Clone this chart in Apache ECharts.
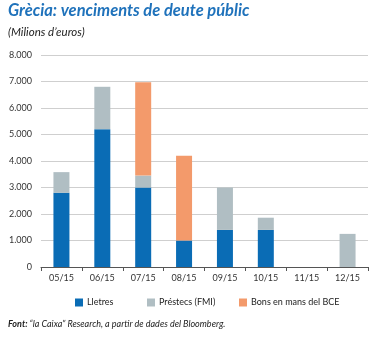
<!DOCTYPE html>
<html>
<head>
<meta charset="utf-8">
<script src="https://cdn.jsdelivr.net/npm/echarts@6/dist/echarts.min.js"></script>
<style>
html,body{margin:0;padding:0;background:#fff;}
#c{width:380px;height:338px;}
</style>
</head>
<body>
<div id="c"></div>
<script>
var categories = ['05/15','06/15','07/15','08/15','09/15','10/15','11/15','12/15'];
var lletres  = [2800, 5200, 3000, 1000, 1400, 1400, 0, 0];
var prestecs = [780, 1600, 450, 0, 1600, 460, 0, 1250];
var bons     = [0, 0, 3520, 3200, 0, 0, 0, 0];
var seriesNames = ['Lletres', 'Préstecs (FMI)', 'Bons en mans del BCE'];
var colors = ['#0a6cb5', '#b0bec3', '#f39a6b'];

var FONT = 'Lato';
var chart = echarts.init(document.getElementById('c'), null, {renderer: 'canvas'});
function fmt(v){ return String(v).replace(/\B(?=(\d{3})+(?!\d))/g, '.'); }
var legendPos = [75, 147, 239];
chart.setOption({
  animation: false,
  textStyle: {fontFamily: FONT},
  title: [
    {text: 'Grècia: venciments de deute públic', left: 8, top: 2, padding: 0,
     textStyle: {fontFamily: FONT, fontSize: 16.5, fontWeight: 'bold', fontStyle: 'italic', color: '#1f72bb'}},
    {text: '(Milions d\u2019euros)', left: 8, top: 26, padding: 0,
     textStyle: {fontFamily: FONT, fontSize: 11.5, fontWeight: 'normal', fontStyle: 'italic', color: '#222'}},
    {text: '{b|Font:}{n| \u201Cla Caixa\u201D Research, a partir de dades del Bloomberg.}', left: 8, top: 320, padding: 0,
     textStyle: {fontWeight: 'normal', fontFamily: FONT, fontSize: 9, rich: {
       b: {fontFamily: FONT, fontSize: 9, fontWeight: 'bold', fontStyle: 'italic', color: '#222'},
       n: {fontFamily: FONT, fontSize: 9, fontWeight: 'normal', fontStyle: 'italic', color: '#222'}
     }}}
  ],
  legend: seriesNames.map(function(n, i){
    return {data: [n], left: legendPos[i], top: 298, padding: 0, itemWidth: 8, itemHeight: 8, itemGap: 5,
      icon: 'rect', textStyle: {fontFamily: FONT, fontSize: 9, color: '#222', padding: [0,0,0,-1]}};
  }),
  grid: {left: 41, right: 12, top: 55, bottom: 71, containLabel: false},
  xAxis: {
    type: 'category', data: categories,
    axisLine: {lineStyle: {color: '#555', width: 1}},
    axisTick: {show: true, length: 4, lineStyle: {color: '#555'}},
    axisLabel: {fontFamily: FONT, fontSize: 9, color: '#333', margin: 7}
  },
  yAxis: {
    type: 'value', min: 0, max: 8000, interval: 1000,
    axisLine: {show: false}, axisTick: {show: false},
    splitLine: {lineStyle: {color: '#cfcfcf', width: 1}},
    axisLabel: {fontFamily: FONT, fontSize: 9, color: '#333', margin: 9, formatter: fmt}
  },
  series: [lletres, prestecs, bons].map(function(d, i){
    return {name: seriesNames[i], type: 'bar', stack: 'tot', data: d, barWidth: 16,
      itemStyle: {color: colors[i]}};
  })
});
</script>
</body>
</html>
